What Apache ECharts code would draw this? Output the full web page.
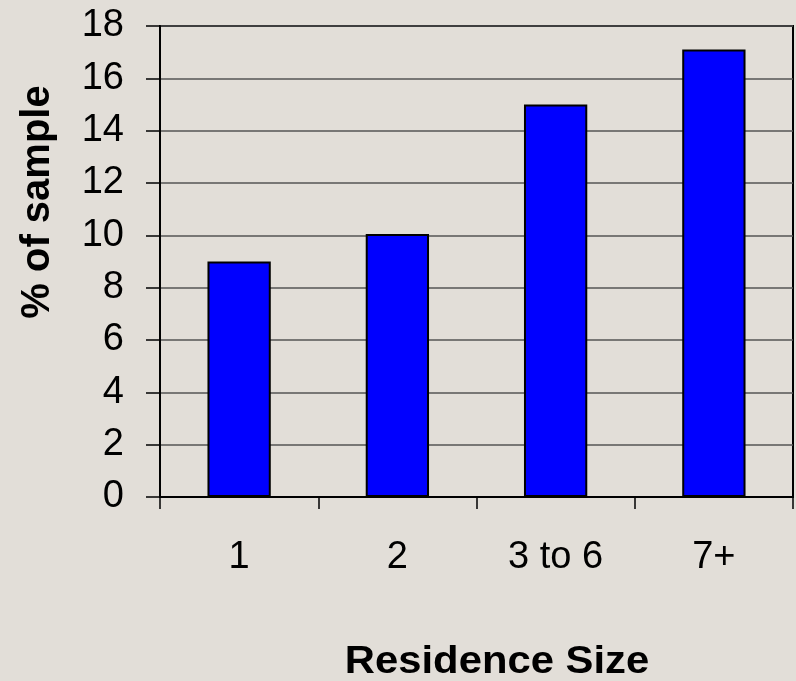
<!DOCTYPE html>
<html>
<head>
<meta charset="utf-8">
<script src="https://cdn.jsdelivr.net/npm/echarts@6/dist/echarts.min.js"></script>
<style>
  html, body { margin: 0; padding: 0; background: #e2ded8; }
  #chart { width: 796px; height: 681px; }
</style>
</head>
<body>
<div id="chart"></div>
<script>
const categories = ['1', '2', '3 to 6', '7+'];
const sampleShare = [9, 10.05, 15, 17.1];
const yTicks = [0, 18, 2];

const chart = echarts.init(document.getElementById('chart'));
chart.setOption({
  backgroundColor: '#e2ded8',
  animation: false,
  grid: {
    left: 160,
    right: 3,
    top: 26,
    bottom: 184,
    show: true,
    borderColor: '#000',
    borderWidth: 2,
    backgroundColor: 'transparent'
  },
  xAxis: {
    type: 'category',
    data: categories,
    axisLine: { lineStyle: { color: '#000', width: 2 } },
    axisTick: { show: true, length: 12, interval: 0, lineStyle: { color: '#000', width: 1.5 } },
    axisLabel: {
      color: '#000',
      fontFamily: 'Liberation Sans, Arial, sans-serif',
      fontSize: 38,
      margin: 42
    }
  },
  yAxis: {
    type: 'value',
    min: yTicks[0],
    max: yTicks[1],
    interval: yTicks[2],
    axisLine: { show: true, lineStyle: { color: '#000', width: 2 } },
    axisTick: { show: true, length: 14, lineStyle: { color: '#000', width: 1.5 } },
    axisLabel: {
      color: '#000',
      fontFamily: 'Liberation Sans, Arial, sans-serif',
      fontSize: 38,
      margin: 36
    },
    splitLine: { show: true, lineStyle: { color: '#555', width: 1.5 } }
  },
  graphic: [
    {
      type: 'text',
      x: 38,
      y: 202,
      rotation: Math.PI / 2,
      style: {
        text: '% of sample',
        fill: '#000',
        font: 'bold 40px Liberation Sans, Arial, sans-serif',
        align: 'center',
        verticalAlign: 'middle'
      }
    },
    {
      type: 'text',
      x: 497,
      y: 663,
      scaleX: 1.1,
      style: {
        text: 'Residence Size',
        fill: '#000',
        font: 'bold 38px Liberation Sans, Arial, sans-serif',
        align: 'center',
        verticalAlign: 'middle'
      }
    }
  ],
  series: [
    {
      type: 'bar',
      data: sampleShare,
      barWidth: '40%',
      itemStyle: { color: '#0000ff', borderColor: '#000', borderWidth: 2 }
    }
  ]
});
</script>
</body>
</html>
